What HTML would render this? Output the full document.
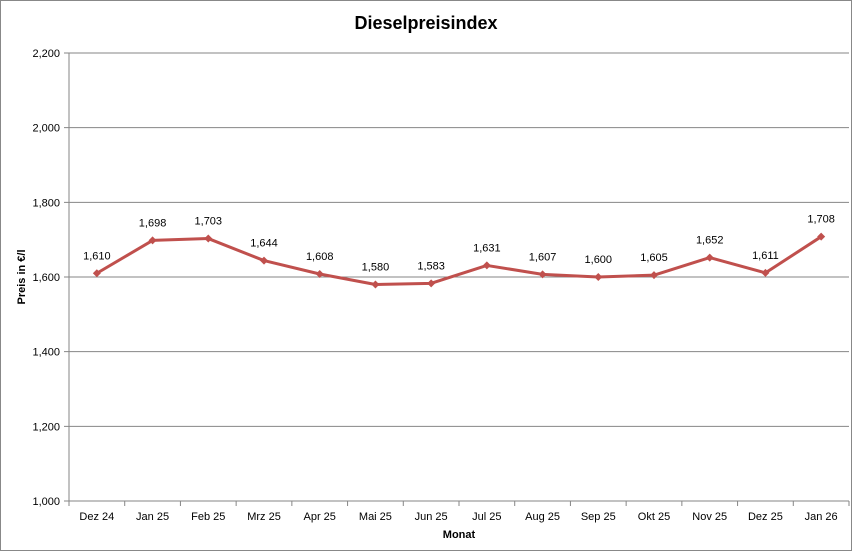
<!DOCTYPE html>
<html><head><meta charset="utf-8"><style>
body{margin:0;background:#fff;}
svg{display:block;font-family:"Liberation Sans",sans-serif;}
</style></head><body>
<svg id="c" width="853" height="552">
<rect x="0.5" y="0.5" width="851" height="550" fill="#fff" stroke="#888"/>
<text x="426" y="29" text-anchor="middle" font-size="18" font-weight="bold">Dieselpreisindex</text>
<text transform="translate(25,277) rotate(-90)" text-anchor="middle" font-size="11" font-weight="bold">Preis in €/l</text>
<text x="459" y="538" text-anchor="middle" font-size="11" font-weight="bold">Monat</text>
<g id="grid"></g><g id="ax"></g><g id="ser"></g>
</svg>
<script>
const categories=["Dez 24","Jan 25","Feb 25","Mrz 25","Apr 25","Mai 25","Jun 25","Jul 25","Aug 25","Sep 25","Okt 25","Nov 25","Dez 25","Jan 26"];
const values=[1.610,1.698,1.703,1.644,1.608,1.580,1.583,1.631,1.607,1.600,1.605,1.652,1.611,1.708];
const yTicks=[1.0,1.2,1.4,1.6,1.8,2.0,2.2];
const L=69,R=849,T=53,B=501,ymin=1.0,ymax=2.2;
const NS="http://www.w3.org/2000/svg";
const step=(R-L)/categories.length;
const x=i=>L+step*(i+0.5);
const y=v=>B-(v-ymin)/(ymax-ymin)*(B-T);
const fmt=v=>v.toFixed(3).replace(".",",").replace(/^(\d),/,"$1,");
function mk(t,a,p){const e=document.createElementNS(NS,t);for(const k in a)e.setAttribute(k,a[k]);p.appendChild(e);return e;}
const g=document.getElementById("grid"),ax=document.getElementById("ax"),s=document.getElementById("ser");
yTicks.forEach(v=>{
 const l=mk("line",{x1:L-5,x2:R,y1:y(v),y2:y(v),stroke:"#868686","stroke-width":1},g);
 
 
 const t=mk("text",{x:L-9,y:y(v)+4,"text-anchor":"end","font-size":11},ax);
 t.textContent=v.toFixed(3).replace(".",",");
 
 
});
const ya=mk("line",{x1:L,x2:L,y1:T,y2:B,stroke:"#868686"},ax);


for(let i=0;i<=categories.length;i++){
 const tk=mk("line",{x1:L+step*i,x2:L+step*i,y1:B,y2:B+5,stroke:"#868686"},ax);
 
 
}
categories.forEach((c,i)=>{
 const t=mk("text",{x:x(i),y:B+19,"text-anchor":"middle","font-size":11},ax);
 t.textContent=c;
 
 
});
const pl=mk("polyline",{points:values.map((v,i)=>x(i)+","+y(v)).join(" "),fill:"none",stroke:"#c0504d","stroke-width":3,"stroke-linejoin":"round"},s);


values.forEach((v,i)=>{
 const cx=x(i),cy=y(v);
 const m=mk("polygon",{points:`${cx},${cy-4} ${cx+4},${cy} ${cx},${cy+4} ${cx-4},${cy}`,fill:"#c0504d"},s);
 
 
 const t=mk("text",{x:cx,y:cy-14,"text-anchor":"middle","font-size":11},s);
 t.textContent=v.toFixed(3).replace(".",",");
 
 
});
</script>
</body></html>
